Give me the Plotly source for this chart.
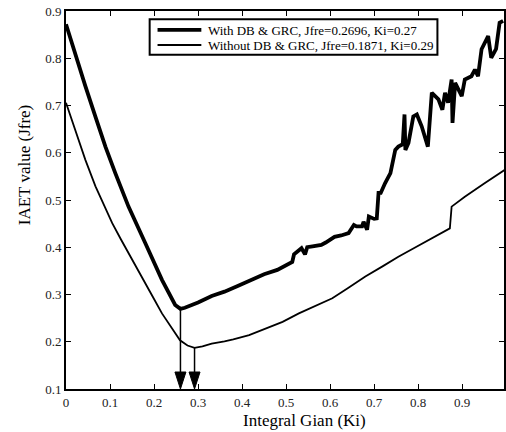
import plotly.graph_objects as go

# ---- data ----
ki_with = [0.0, 0.022, 0.044, 0.067, 0.0895, 0.112, 0.142, 0.180, 0.218, 0.248, 0.260,
           0.27, 0.285, 0.30, 0.331, 0.36, 0.39, 0.42, 0.45, 0.48, 0.505, 0.514, 0.518, 0.53,
           0.535, 0.543, 0.548, 0.56, 0.58, 0.59, 0.61, 0.625, 0.642, 0.654, 0.660, 0.6725,
           0.676, 0.684, 0.688, 0.70, 0.706, 0.710, 0.715, 0.725, 0.737, 0.748, 0.755, 0.765,
           0.769, 0.771, 0.778, 0.789, 0.797, 0.808, 0.822, 0.831, 0.846, 0.855, 0.861, 0.868,
           0.876, 0.878, 0.884, 0.899, 0.906, 0.921, 0.929, 0.936, 0.944, 0.959, 0.966, 0.977,
           0.985, 0.993]
j_with = [0.872, 0.805, 0.741, 0.676, 0.613, 0.557, 0.486, 0.409, 0.331, 0.278, 0.2696,
          0.272, 0.277, 0.283, 0.297, 0.306, 0.318, 0.331, 0.343, 0.352, 0.363, 0.369, 0.385, 0.394,
          0.398, 0.385, 0.400, 0.402, 0.405, 0.410, 0.422, 0.425, 0.430, 0.447, 0.444, 0.444,
          0.454, 0.437, 0.465, 0.460, 0.461, 0.515, 0.515, 0.536, 0.557, 0.606, 0.613, 0.618,
          0.681, 0.606, 0.621, 0.677, 0.681, 0.656, 0.613, 0.727, 0.713, 0.691, 0.727, 0.706,
          0.755, 0.663, 0.748, 0.720, 0.755, 0.762, 0.776, 0.762, 0.819, 0.847, 0.801, 0.820,
          0.875, 0.879]

ki_without = [0.0, 0.022, 0.044, 0.067, 0.086, 0.105, 0.124, 0.142, 0.161, 0.180, 0.199, 0.218,
              0.240, 0.259, 0.276, 0.292, 0.31, 0.331, 0.36, 0.38, 0.416, 0.45, 0.492, 0.529,
              0.565, 0.605, 0.64, 0.680, 0.72, 0.755, 0.79, 0.831, 0.872, 0.876, 0.906, 0.95, 0.997]
j_without = [0.706, 0.643, 0.585, 0.529, 0.488, 0.451, 0.418, 0.387, 0.355, 0.324, 0.292, 0.260,
             0.229, 0.203, 0.192, 0.1871, 0.190, 0.196, 0.201, 0.205, 0.214, 0.226, 0.242, 0.260,
             0.275, 0.292, 0.313, 0.338, 0.360, 0.380, 0.398, 0.419, 0.440, 0.486, 0.507, 0.535, 0.564]

series_names = ["With DB & GRC, Jfre=0.2696, Ki=0.27",
                "Without DB & GRC, Jfre=0.1871, Ki=0.29"]
series_widths = [3.8, 1.8]

# optimum markers (arrow positions)
opt_ki = [0.260, 0.292]
opt_j = [0.2696, 0.1871]

x_ticks = [0, 0.1, 0.2, 0.3, 0.4, 0.5, 0.6, 0.7, 0.8, 0.9, 1]
x_tick_text = ["0", "0.1", "0.2", "0.3", "0.4", "0.5", "0.6", "0.7", "0.8", "0.9", "1"]
y_ticks = [0.1, 0.2, 0.3, 0.4, 0.5, 0.6, 0.7, 0.8, 0.9]

FONT = "Liberation Serif, Times New Roman, serif"

fig = go.Figure()
fig.add_trace(go.Scatter(x=ki_with, y=j_with, mode="lines", name=series_names[0],
                         line=dict(color="black", width=series_widths[0]), showlegend=False))
fig.add_trace(go.Scatter(x=ki_without, y=j_without, mode="lines", name=series_names[1],
                         line=dict(color="black", width=series_widths[1]), showlegend=False))

shapes = []
for k, j in zip(opt_ki, opt_j):
    shapes.append(dict(type="line", xref="x", yref="y", x0=k, x1=k, y0=j, y1=0.12,
                       line=dict(color="black", width=1.5)))
    shapes.append(dict(type="path", xref="x", yref="y", xsizemode="pixel", ysizemode="pixel",
                       xanchor=k, yanchor=0.1,
                       path="M-5.5,17 L5.5,17 L0,0 Z",
                       fillcolor="black", line=dict(color="black", width=1)))

# legend box (drawn, matching the compact MATLAB legend)
shapes.append(dict(type="rect", xref="paper", yref="paper", x0=0.191, x1=0.848, y0=0.884, y1=0.978,
                   fillcolor="white", line=dict(color="black", width=2), layer="above"))
annotations = []
leg_y = [0.950, 0.910]
for name, w, yy in zip(series_names, series_widths, leg_y):
    shapes.append(dict(type="line", xref="paper", yref="paper", x0=0.209, x1=0.309, y0=yy, y1=yy,
                       line=dict(color="black", width=w), layer="above"))
    annotations.append(dict(text=name, xref="paper", yref="paper", x=0.3205, y=yy - 0.002,
                            xanchor="left", yanchor="middle", showarrow=False,
                            font=dict(family=FONT, size=13, color="black")))

# axis titles
annotations.append(dict(text="Integral Gian (Ki)", xref="paper", yref="paper", x=0.544, y=-0.083,
                        xanchor="center", yanchor="middle", showarrow=False,
                        font=dict(family=FONT, size=17, color="black")))
annotations.append(dict(text="IAET value (Jfre)", xref="paper", yref="paper", x=-0.095, y=0.593,
                        xanchor="center", yanchor="middle", showarrow=False, textangle=-90,
                        font=dict(family=FONT, size=17, color="black")))

fig.update_layout(
    width=506, height=432,
    margin=dict(l=66, r=0, t=11, b=43),
    paper_bgcolor="white", plot_bgcolor="white",
    font=dict(family=FONT, color="black", size=12),
    shapes=shapes,
    annotations=annotations,
    showlegend=False,
    xaxis=dict(range=[0, 0.995], tickvals=x_ticks, ticktext=x_tick_text,
               ticks="inside", ticklen=5, tickwidth=1, tickcolor="black",
               showline=True, linecolor="black", linewidth=2, mirror="ticks",
               showgrid=False, zeroline=False,
               tickfont=dict(family=FONT, size=13, color="#222")),
    yaxis=dict(range=[0.1, 0.9], tickvals=y_ticks, tickformat=".1f",
               ticks="inside", ticklen=5, tickwidth=1, tickcolor="black",
               showline=True, linecolor="black", linewidth=2, mirror="ticks",
               showgrid=False, zeroline=False,
               tickfont=dict(family=FONT, size=13, color="#222")),
)

fig.write_html("out.html")
